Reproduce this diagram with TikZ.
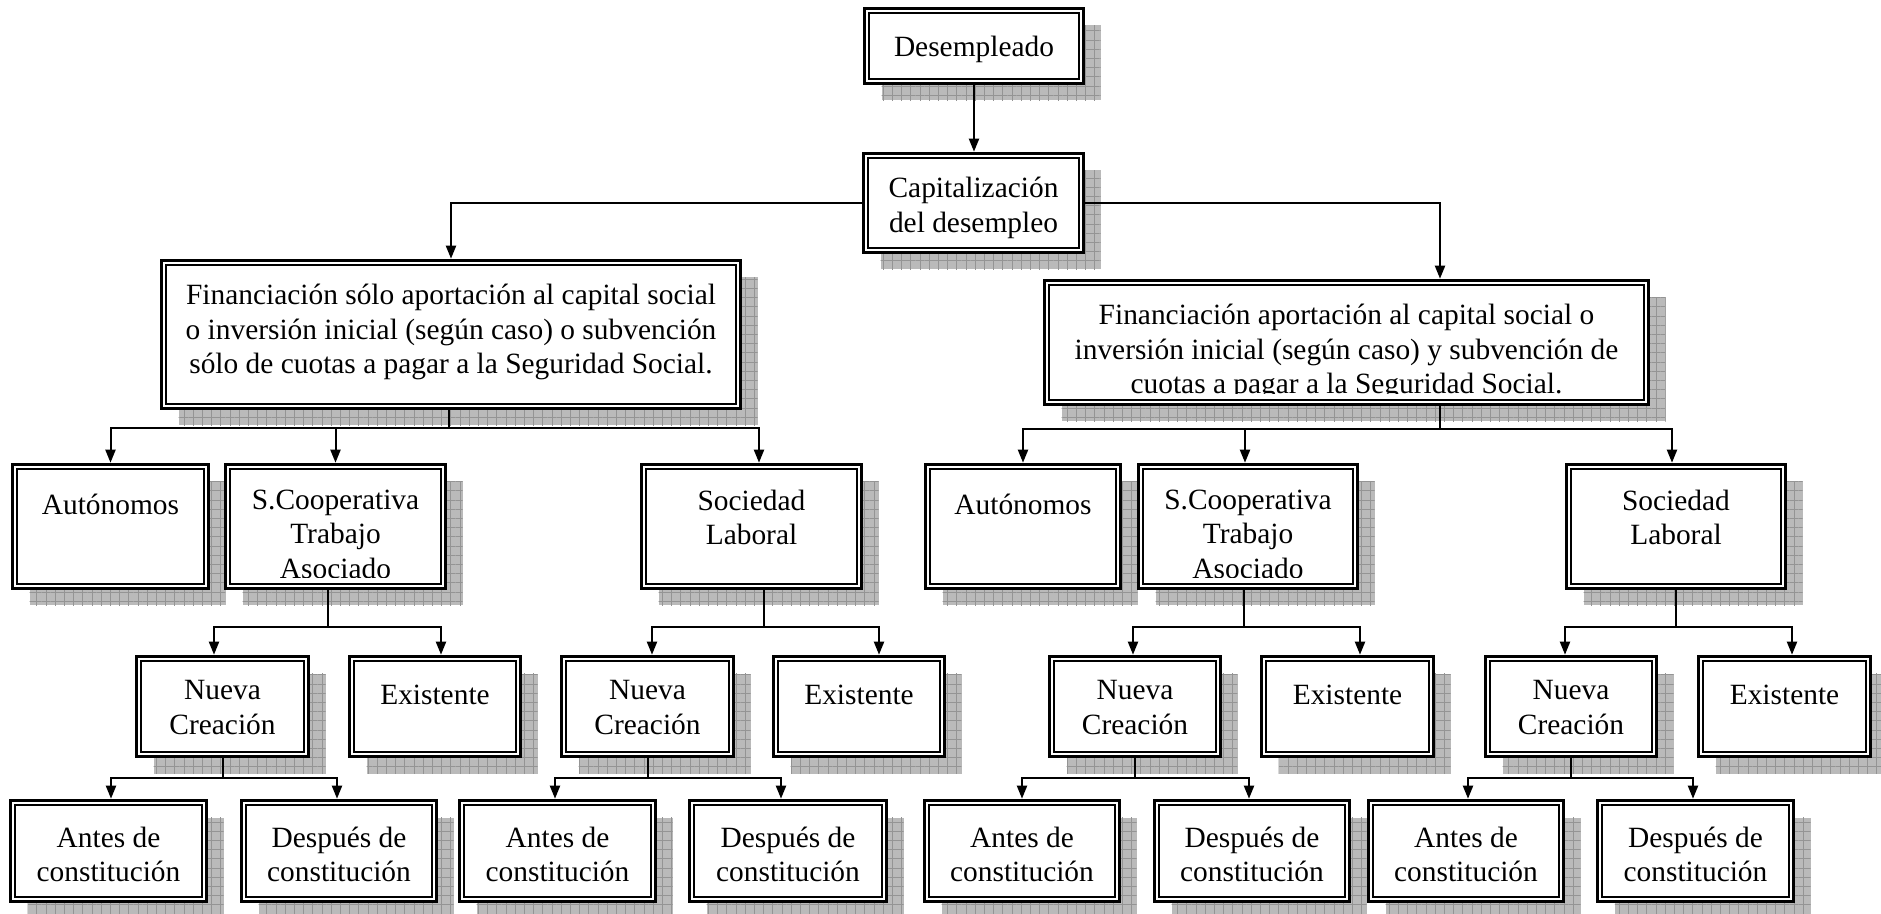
\documentclass[tikz,border=0pt]{standalone}
\usepackage{fontspec}
\setmainfont{Liberation Serif}
\usetikzlibrary{positioning}
\usetikzlibrary{arrows.meta}
\usetikzlibrary{patterns.meta}

\tikzset{
  tam/.style 2 args={minimum width=(#1-3)*0.5pt, minimum height=(#2-3)*0.5pt},
  caja/.style={draw, line width=1.8pt, fill=white, inner sep=0pt,
    preaction={fill=black!27, transform canvas={shift={(8.5pt,-8.5pt)}}},
    preaction={pattern={Hatch[distance=4.6pt,line width=0.45pt]}, pattern color=black!42,
      transform canvas={shift={(8.5pt,-8.5pt)}}},
    path picture={\draw[line width=1pt]
      ([shift={(2.3pt,-2.3pt)}]path picture bounding box.north west) rectangle
      ([shift={(-2.3pt,2.3pt)}]path picture bounding box.south east);}},
  texto/.style={inner sep=0pt, align=center, font=\fontsize{14.7}{17.2}\selectfont,
    execute at begin node=\strut},
  linea/.style={line width=1pt},
  flecha/.style={line width=1pt, -{Triangle[length=6.5pt,width=5pt]}}
}

\begin{document}
\begin{tikzpicture}[x=0.5pt,y=-0.5pt]
\useasboundingbox (0,0) rectangle (1881,914);

%Boxes: top
\node[caja, tam={222}{78}] (desemp) at (974,46) {};
\node[caja, tam={223}{102}] (capital) at (973.5,203) {};
\node[caja, tam={582}{151}] (finA) at (451,334.5) {};
\node[caja, tam={607}{127}] (finB) at (1346.5,342.5) {};

%Boxes: row 4
\node[caja, tam={199}{127}] (autoA) at (110.5,526.5) {};
\node[caja, tam={223}{127}] (coopA) at (335.5,526.5) {};
\node[caja, tam={223}{127}] (socA) at (751.5,526.5) {};
\node[caja, tam={198}{127}] (autoB) at (1023,526.5) {};
\node[caja, tam={222}{127}] (coopB) at (1248,526.5) {};
\node[caja, tam={222}{127}] (socB) at (1676,526.5) {};

%Boxes: row 5
\node[caja, tam={175}{103}] (nuevaA) at (222.5,706.5) {};
\node[caja, tam={174}{103}] (existA) at (435,706.5) {};
\node[caja, tam={175}{103}] (nuevaB) at (647.5,706.5) {};
\node[caja, tam={174}{103}] (existB) at (859,706.5) {};
\node[caja, tam={174}{103}] (nuevaC) at (1135,706.5) {};
\node[caja, tam={175}{103}] (existC) at (1347.5,706.5) {};
\node[caja, tam={174}{103}] (nuevaD) at (1571,706.5) {};
\node[caja, tam={175}{103}] (existD) at (1784.5,706.5) {};

%Boxes: row 6
\node[caja, tam={199}{104}] (antesA) at (108.5,851) {};
\node[caja, tam={198}{104}] (despuesA) at (339,851) {};
\node[caja, tam={199}{104}] (antesB) at (557.5,851) {};
\node[caja, tam={200}{104}] (despuesB) at (788,851) {};
\node[caja, tam={198}{104}] (antesC) at (1022,851) {};
\node[caja, tam={198}{104}] (despuesC) at (1252,851) {};
\node[caja, tam={198}{104}] (antesD) at (1466,851) {};
\node[caja, tam={199}{104}] (despuesD) at (1695.5,851) {};

% Text Node
\node[texto, below=12.7pt of desemp.north] (tdesemp) {Desempleado};
\node[texto, below=12.7pt of capital.north] (tcapital) {Capitalización\\del desempleo};
\node[texto, below=12.7pt of finA.north] (tfinA) {Financiación sólo aportación al capital social\\o inversión inicial (según caso) o subvención\\sólo de cuotas a pagar a la Seguridad Social.};
\begin{scope}
\clip (finB.north west) rectangle ([yshift=6.5pt]finB.south east);
\node[texto, below=12.7pt of finB.north] (tfinB) {Financiación aportación al capital social o\\inversión inicial (según caso) y subvención de\\cuotas a pagar a la Seguridad Social.};
\end{scope}

\node[texto, below=13.5pt of autoA.north] (tautoA) {Autónomos};
\begin{scope}
\clip (coopA.north west) rectangle ([yshift=6.5pt]coopA.south east);
\node[texto, below=13.5pt of coopA.north] (tcoopA) {S.Cooperativa\\Trabajo\\Asociado};
\end{scope}
\node[texto, below=13.5pt of socA.north] (tsocA) {Sociedad\\Laboral};
\node[texto, below=13.5pt of autoB.north] (tautoB) {Autónomos};
\begin{scope}
\clip (coopB.north west) rectangle ([yshift=6.5pt]coopB.south east);
\node[texto, below=13.5pt of coopB.north] (tcoopB) {S.Cooperativa\\Trabajo\\Asociado};
\end{scope}
\node[texto, below=13.5pt of socB.north] (tsocB) {Sociedad\\Laboral};

\node[texto, below=12.7pt of nuevaA.north] (tnuevaA) {Nueva\\Creación};
\node[texto, below=12.7pt of existA.north] (texistA) {Existente};
\node[texto, below=12.7pt of nuevaB.north] (tnuevaB) {Nueva\\Creación};
\node[texto, below=12.7pt of existB.north] (texistB) {Existente};
\node[texto, below=12.7pt of nuevaC.north] (tnuevaC) {Nueva\\Creación};
\node[texto, below=12.7pt of existC.north] (texistC) {Existente};
\node[texto, below=12.7pt of nuevaD.north] (tnuevaD) {Nueva\\Creación};
\node[texto, below=12.7pt of existD.north] (texistD) {Existente};

\node[texto, below=14pt of antesA.north] (tantesA) {Antes de\\constitución};
\node[texto, below=14pt of despuesA.north] (tdespuesA) {Después de\\constitución};
\node[texto, below=14pt of antesB.north] (tantesB) {Antes de\\constitución};
\node[texto, below=14pt of despuesB.north] (tdespuesB) {Después de\\constitución};
\node[texto, below=14pt of antesC.north] (tantesC) {Antes de\\constitución};
\node[texto, below=14pt of despuesC.north] (tdespuesC) {Después de\\constitución};
\node[texto, below=14pt of antesD.north] (tantesD) {Antes de\\constitución};
\node[texto, below=14pt of despuesD.north] (tdespuesD) {Después de\\constitución};

%Connectors: top
\draw[flecha] (desemp.south) -- (desemp.south |- capital.north);
\draw[flecha] (capital.west) -| (finA.north);
\draw[flecha] (capital.east) -| ([xshift=46.75pt]finB.north);

%Connectors: row 3 to row 4
\draw[linea] ([xshift=-1pt]finA.south) -- ++(0,18) coordinate (bfinA);
\draw[flecha] (bfinA) -| (autoA.north);
\draw[flecha] (bfinA) -| (coopA.north);
\draw[flecha] (bfinA) -| ([xshift=3.75pt]socA.north);
\draw[linea] ([xshift=46.75pt]finB.south) -- ++(0,23) coordinate (bfinB);
\draw[flecha] (bfinB) -| (autoB.north);
\draw[flecha] (bfinB) -| ([xshift=-1.5pt]coopB.north);
\draw[flecha] (bfinB) -| ([xshift=-2pt]socB.north);

%Connectors: row 4 to row 5
\draw[linea] ([xshift=-3.75pt]coopA.south) -- ++(0,37) coordinate (bcoopA);
\draw[flecha] (bcoopA) -| ([xshift=-4.25pt]nuevaA.north);
\draw[flecha] (bcoopA) -| ([xshift=3pt]existA.north);
\draw[linea] ([xshift=6.25pt]socA.south) -- ++(0,37) coordinate (bsocA);
\draw[flecha] (bsocA) -| ([xshift=2.25pt]nuevaB.north);
\draw[flecha] (bsocA) -| ([xshift=10pt]existB.north);
\draw[linea] ([xshift=-2pt]coopB.south) -- ++(0,37) coordinate (bcoopB);
\draw[flecha] (bcoopB) -| ([xshift=-1pt]nuevaC.north);
\draw[flecha] (bcoopB) -| ([xshift=6.25pt]existC.north);
\draw[linea] (socB.south) -- ++(0,37) coordinate (bsocB);
\draw[flecha] (bsocB) -| ([xshift=-3pt]nuevaD.north);
\draw[flecha] (bsocB) -| ([xshift=3.75pt]existD.north);

%Connectors: row 5 to row 6
\draw[linea] (nuevaA.south) -- ++(0,20) coordinate (bnuevaA);
\draw[flecha] (bnuevaA) -| ([xshift=1.25pt]antesA.north);
\draw[flecha] (bnuevaA) -| ([xshift=-1pt]despuesA.north);
\draw[linea] (nuevaB.south) -- ++(0,20) coordinate (bnuevaB);
\draw[flecha] (bnuevaB) -| ([xshift=-1.25pt]antesB.north);
\draw[flecha] (bnuevaB) -| ([xshift=-3.5pt]despuesB.north);
\draw[linea] (nuevaC.south) -- ++(0,20) coordinate (bnuevaC);
\draw[flecha] (bnuevaC) -| (antesC.north);
\draw[flecha] (bnuevaC) -| ([xshift=-1.5pt]despuesC.north);
\draw[linea] (nuevaD.south) -- ++(0,20) coordinate (bnuevaD);
\draw[flecha] (bnuevaD) -| ([xshift=1pt]antesD.north);
\draw[flecha] (bnuevaD) -| ([xshift=-1.25pt]despuesD.north);

\end{tikzpicture}
\end{document}
